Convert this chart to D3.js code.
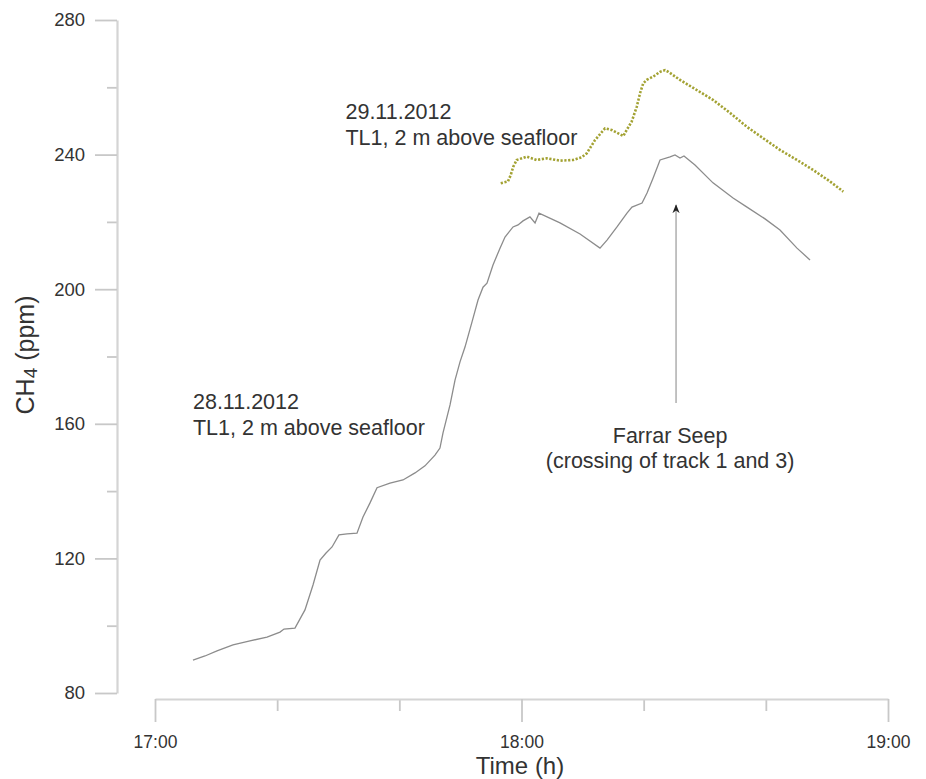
<!DOCTYPE html>
<html>
<head>
<meta charset="utf-8">
<script src="https://cdn.jsdelivr.net/npm/d3@7"></script>
<style>
  body { margin: 0; background: #fff; }
  text { font-family: "Liberation Sans", Arial, sans-serif; fill: #333; }
</style>
</head>
<body>
<div id="chart-area"></div>
<script>
// CH4 readings, 28.11.2012 (grey line)
const timesNov28 = ["17:06:13","17:08:11","17:10:09","17:12:46","17:15:33","17:18:20","17:20:28","17:21:07","17:22:55",
  "17:24:33","17:25:52","17:27:01","17:28:00","17:28:59","17:30:07","17:31:26","17:33:04","17:34:03","17:35:12",
  "17:36:21","17:38:28","17:40:36","17:42:34","17:44:12","17:45:50","17:46:39","17:47:09","17:48:18","17:49:07",
  "17:49:56","17:50:45","17:51:54","17:52:53","17:53:42","17:54:21","17:55:20","17:56:29","17:57:18","17:58:37",
  "17:59:26","18:00:15","18:01:23","18:02:13","18:02:52","18:06:18","18:09:35","18:12:51","18:14:00","18:15:38",
  "18:17:16","18:18:05","18:19:44","18:20:33","18:21:32","18:22:41","18:24:19","18:25:08","18:25:57","18:26:36",
  "18:28:24","18:31:21","18:34:38","18:36:55","18:39:52","18:42:19","18:45:06","18:47:14"];
const ch4Nov28 = [89.8,91.0,92.5,94.3,95.5,96.6,98.1,99.0,99.3,
  104.7,112.1,119.5,121.6,123.4,127.0,127.3,127.5,132.3,136.5,
  141.0,142.4,143.3,145.4,147.5,150.7,152.8,157.3,165.6,173.0,
  178.4,182.8,190.3,196.8,200.6,201.8,207.2,212.2,215.5,218.5,
  219.1,220.3,221.5,219.7,222.6,219.7,216.4,212.2,214.6,218.5,
  222.6,224.4,225.6,228.6,233.0,238.4,239.3,239.9,239.0,239.6,
  236.9,231.6,227.1,224.4,220.9,217.6,212.2,208.7];

// CH4 readings, 29.11.2012 (olive dots)
const timesNov29 = ["17:56:36","17:57:47","17:58:14","17:58:39","17:59:13","18:00:51","18:02:29","18:04:08","18:06:18",
  "18:08:26","18:09:51","18:10:41","18:12:02","18:13:40","18:14:46","18:16:40","18:17:13","18:18:02","18:18:52",
  "18:19:24","18:19:56","18:20:30","18:21:35","18:22:41","18:23:30","18:24:02","18:25:57","18:28:41","18:31:24",
  "18:34:08","18:36:52","18:39:32","18:42:19","18:45:06","18:47:46","18:50:31","18:52:41"];
const ch4Nov29 = [231.5,232.0,233.9,236.4,238.4,239.4,238.4,238.9,238.2,
  238.4,239.2,240.4,244.3,247.8,247.3,245.5,247.3,249.8,254.2,
  258.2,261.2,262.2,263.2,264.6,265.1,264.6,262.2,259.2,256.2,
  252.4,248.3,244.9,241.4,238.4,235.4,232.0,229.0];

const xMajorTicks = ["17:00","18:00","19:00"];
const xMinorTicks = ["17:20","17:40","18:20","18:40"];
const yMajorTicks = [80,120,160,200,240,280];
const yMinorTicks = [100,140,180,220,260];

const parseTime = d3.timeParse("%H:%M:%S");
const parseHM = d3.timeParse("%H:%M");

const nov28 = timesNov28.map((t, i) => ({ time: parseTime(t), ch4: ch4Nov28[i] }));
const nov29 = timesNov29.map((t, i) => ({ time: parseTime(t), ch4: ch4Nov29[i] }));

const svg = d3.select("#chart-area")
  .append("svg")
    .attr("width", 926)
    .attr("height", 779);

// Scales
const x = d3.scaleTime()
  .domain([parseHM("17:00"), parseHM("19:00")])
  .range([155, 888]);
const y = d3.scaleLinear()
  .domain([80, 280])
  .range([693, 20]);

// X axis (offset below the plot)
const xAxisMinor = svg.append("g")
  .attr("transform", "translate(0,699)")
  .call(d3.axisBottom(x).tickValues(xMinorTicks.map(parseHM)).tickSize(12).tickFormat(""));
xAxisMinor.select(".domain").remove();

const xAxis = svg.append("g")
  .attr("transform", "translate(0,699)")
  .call(d3.axisBottom(x)
    .tickValues(xMajorTicks.map(parseHM))
    .tickSize(23).tickSizeOuter(0).tickPadding(14)
    .tickFormat(d3.timeFormat("%H:%M")));

// Y axis
const yAxisMinor = svg.append("g")
  .attr("transform", "translate(117,0)")
  .call(d3.axisLeft(y).tickValues(yMinorTicks).tickSize(10).tickFormat(""));
yAxisMinor.select(".domain").remove();

const yAxis = svg.append("g")
  .attr("transform", "translate(117,0)")
  .call(d3.axisLeft(y).tickValues(yMajorTicks).tickSize(22).tickSizeOuter(0).tickPadding(10));

svg.selectAll(".domain").attr("stroke", "#d4d4d4").attr("stroke-width", 2.2);
svg.selectAll(".tick line").attr("stroke", "#c8c8c8").attr("stroke-width", 1.8);
svg.selectAll(".tick text").attr("fill", "#444").attr("font-size", "17.5px")
  .attr("font-family", "'Liberation Sans', Arial, sans-serif");
yAxis.selectAll(".tick text").attr("font-size", "18.5px");

// Axis labels
svg.append("text")
  .attr("x", 520)
  .attr("y", 774)
  .attr("text-anchor", "middle")
  .attr("font-size", "24px")
  .text("Time (h)");

const yLabel = svg.append("text")
  .attr("transform", "rotate(-90)")
  .attr("x", -355)
  .attr("y", 34)
  .attr("text-anchor", "middle")
  .attr("font-size", "25px");
yLabel.append("tspan").text("CH");
yLabel.append("tspan").attr("font-size", "19px").attr("dy", 3).text("4");
yLabel.append("tspan").attr("dy", -3).text(" (ppm)");

// Lines
const line = d3.line()
  .x(d => x(d.time))
  .y(d => y(d.ch4));

svg.append("path")
  .datum(nov28)
  .attr("fill", "none")
  .attr("stroke", "#8c8c8c")
  .attr("stroke-width", 1.3)
  .attr("d", line);

svg.append("path")
  .datum(nov29)
  .attr("fill", "none")
  .attr("stroke", "#a3a233")
  .attr("stroke-width", 2.6)
  .attr("stroke-dasharray", "2.2,1.6")
  .attr("d", line);

// Annotations
function label(lines, t, v, anchor, gap) {
  const txt = svg.append("text")
    .attr("x", x(parseTime(t)))
    .attr("y", y(v))
    .attr("text-anchor", anchor)
    .attr("font-size", "21.5px");
  lines.forEach((l, i) => {
    txt.append("tspan")
      .attr("x", x(parseTime(t)))
      .attr("dy", i === 0 ? 0 : gap)
      .text(l);
  });
}
label(["28.11.2012", "TL1, 2 m above seafloor"], "17:06:13", 164.4, "start", 26);
label(["29.11.2012", "TL1, 2 m above seafloor"], "17:31:11", 250.6, "start", 26);
label(["Farrar Seep", "(crossing of track 1 and 3)"], "18:24:20", 154.3, "middle", 25);

// Arrow to the seep
svg.append("defs").append("marker")
  .attr("id", "arrow")
  .attr("viewBox", "0 0 10 10")
  .attr("refX", 9).attr("refY", 5)
  .attr("markerWidth", 9).attr("markerHeight", 9)
  .attr("orient", "auto")
  .attr("markerUnits", "userSpaceOnUse")
  .append("path")
    .attr("d", "M0,1 L10,5 L0,9 L3,5 Z")
    .attr("fill", "#222");

svg.append("line")
  .attr("x1", x(parseTime("18:25:18"))).attr("y1", y(166.2))
  .attr("x2", x(parseTime("18:25:18"))).attr("y2", y(225.0))
  .attr("stroke", "#999")
  .attr("stroke-width", 1.2)
  .attr("marker-end", "url(#arrow)");
</script>
</body>
</html>
